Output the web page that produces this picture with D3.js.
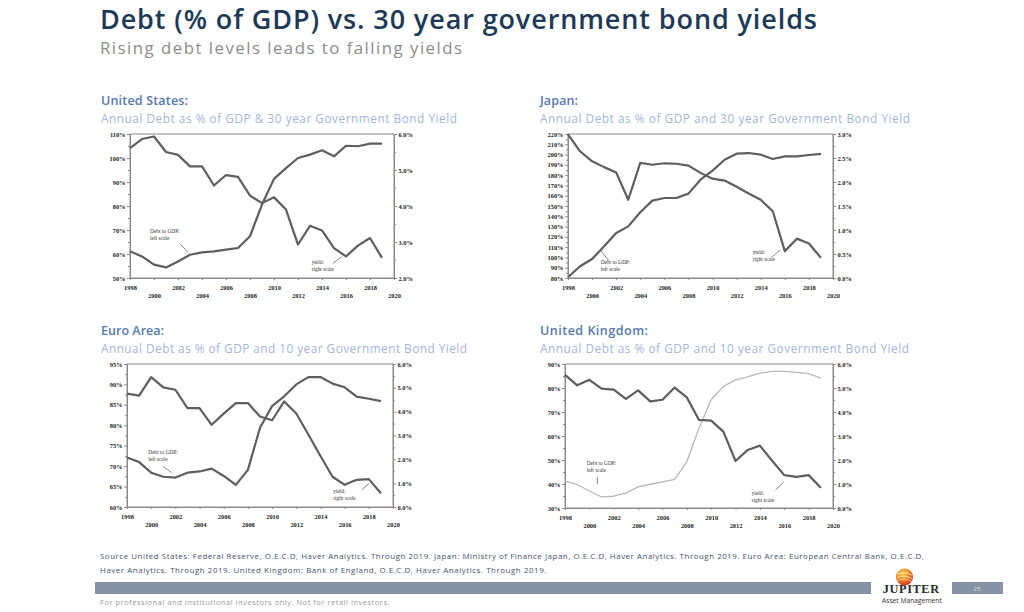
<!DOCTYPE html>
<html><head><meta charset="utf-8">
<script src="https://cdn.jsdelivr.net/npm/d3@7"></script>
<style>body{margin:0;background:#fff;} svg{display:block}</style>
</head><body>
<svg id="c" width="1024" height="612"></svg>
<script>
// ---------- DATA ----------
const years = [1998,1999,2000,2001,2002,2003,2004,2005,2006,2007,2008,2009,2010,2011,2012,2013,2014,2015,2016,2017,2018,2019];
const xTickYears = [1998,2000,2002,2004,2006,2008,2010,2012,2014,2016,2018,2020];

const usDebt  = [61.1,59.0,55.6,54.4,56.9,59.7,60.7,61.1,61.8,62.5,67.4,80.6,91.3,95.8,100.0,101.4,103.2,100.7,105.1,104.9,106.0,106.0];
const usYield = [5.61,5.86,5.93,5.50,5.42,5.10,5.10,4.57,4.86,4.81,4.29,4.08,4.24,3.90,2.93,3.45,3.32,2.83,2.60,2.90,3.11,2.56];
const usLeftTicks  = [50,60,70,80,90,100,110];
const usRightTicks = [2,3,4,5,6];

const jpDebt  = [80.7,91.4,98.5,110.8,123.8,130.2,143.9,155.2,157.8,157.8,162.0,175.6,184.4,195.0,200.9,201.5,199.9,195.7,198.3,198.3,199.6,200.6];
const jpYield = [2.99,2.64,2.43,2.31,2.20,1.63,2.40,2.36,2.39,2.38,2.34,2.19,2.07,2.03,1.90,1.76,1.63,1.39,0.56,0.82,0.72,0.42];
const jpLeftTicks  = [80,90,100,110,120,130,140,150,160,170,180,190,200,210,220];
const jpRightTicks = [0,0.5,1.0,1.5,2.0,2.5,3.0];

const euDebt  = [72.1,71.0,68.4,67.4,67.2,68.4,68.7,69.4,67.6,65.4,69.1,79.4,84.7,87.1,90.0,91.8,91.8,90.2,89.3,87.0,86.5,85.9];
const euYield = [4.76,4.67,5.45,5.02,4.92,4.15,4.15,3.45,3.92,4.36,4.36,3.80,3.64,4.43,3.92,3.04,2.14,1.27,0.93,1.14,1.17,0.58];
const euLeftTicks  = [60,65,70,75,80,85,90,95];
const euRightTicks = [0,1,2,3,4,5,6];

const ukDebt  = [41.2,39.8,37.1,34.6,34.9,36.3,38.8,39.9,40.9,41.9,49.3,63.2,75.1,80.7,83.4,84.6,86.2,86.9,86.9,86.5,86.0,84.1];
const ukYield = [5.55,5.11,5.34,4.97,4.93,4.55,4.90,4.44,4.51,5.02,4.61,3.67,3.64,3.18,1.96,2.42,2.60,1.97,1.37,1.30,1.37,0.84];
const ukLeftTicks  = [30,40,50,60,70,80,90];
const ukRightTicks = [0,1,2,3,4,5,6];

const mainTitle = "Debt (% of GDP) vs. 30 year government bond yields";
const mainSub = "Rising debt levels leads to falling yields";
const sourceLines = [
  "Source United States: Federal Reserve, O.E.C.D, Haver Analytics.  Through 2019. Japan: Ministry of Finance Japan, O.E.C.D, Haver Analytics.  Through 2019. Euro Area: European Central Bank, O.E.C.D,",
  "Haver Analytics.  Through 2019. United Kingdom: Bank of England,  O.E.C.D, Haver Analytics.  Through 2019."
];
const disclaimer = "For professional and institutional  investors only. Not for retail investors.";

// ---------- LAYOUT ----------
const panels = [
  {name:"United States:", sub:"Annual Debt as % of GDP & 30 year Government Bond Yield",
   debt:usDebt, yld:usYield, left:usLeftTicks, right:usRightTicks,
   box:[130,394,134,278], hx:101, hy:105, sy:123, nameW:87, subW:356, thinDebt:false,
   dLab:[1999.67,68.6], dPtr:[[2002.17,64.2],[2002.83,60.8]],
   yLab:[2013.14,55.8], yPtr:[[2014.9,56.1],[2015.64,58.9]]},
  {name:"Japan:", sub:"Annual Debt as % of GDP and 30 year Government Bond Yield",
   debt:jpDebt, yld:jpYield, left:jpLeftTicks, right:jpRightTicks,
   box:[568,833,134,278], hx:540, hy:105, sy:123, nameW:38, subW:370, thinDebt:false,
   dLab:[2000.71,93.3], dPtr:[[2000.74,106.3],[2001.40,96.8]],
   yLab:[2013.33,103.0], yPtr:[[2014.96,100.7],[2015.6,107.2]]},
  {name:"Euro Area:", sub:"Annual Debt as % of GDP and 10 year Government Bond Yield",
   debt:euDebt, yld:euYield, left:euLeftTicks, right:euRightTicks,
   box:[127,393,364,507], hx:101, hy:335, sy:353, nameW:63, subW:366, thinDebt:false,
   dLab:[1999.76,72.97], dPtr:[[2001.0,69.87],[2001.7,68.4]],
   yLab:[2015.06,63.5], yPtr:[[2017.41,64.16],[2018.02,65.8]]},
  {name:"United Kingdom:", sub:"Annual Debt as % of GDP and 10 year Government Bond Yield",
   debt:ukDebt, yld:ukYield, left:ukLeftTicks, right:ukRightTicks,
   box:[565,833,364,508], hx:540, hy:335, sy:353, nameW:108, subW:369, thinDebt:true,
   dLab:[1999.78,47.8], dPtr:[[2000.66,42.8],[2000.66,39.9]],
   yLab:[2013.33,35.4], yPtr:[[2015.27,37.5],[2015.95,40.7]]}
];

const svg = d3.select("#c");
const SANS = "'Open Sans', 'Noto Sans', sans-serif";
const SERIF = "'Liberation Serif', 'DejaVu Serif', serif";

function fit(t, w){
  const l = t.node().getComputedTextLength();
  const fs = parseFloat(t.attr("font-size"));
  if (l > 0) t.attr("font-size", fs * w / l);
}
function fitSpacing(t, w){
  const l = t.node().getComputedTextLength();
  const n = t.text().length;
  if (l > 0 && n > 1) t.attr("letter-spacing", (w - l) / (n - 1));
}

// main titles
fitSpacing(svg.append("text").attr("x",100).attr("y",29).attr("font-family",SANS)
  .attr("font-weight",600).attr("font-size",27).attr("fill","#1c3a56").text(mainTitle), 717);
fitSpacing(svg.append("text").attr("x",100).attr("y",53.5).attr("font-family",SANS)
  .attr("font-size",16.8).attr("fill","#8c8c8c").text(mainSub), 362);

const pctL = d => d3.format("d")(d) + "%";
const pctR = d => d3.format(".1f")(d) + "%";

panels.forEach(p => {
  const [x0,x1,y0,y1] = p.box;
  const x = d3.scaleLinear().domain([1998,2020]).range([x0,x1]);
  const yl = d3.scaleLinear().domain([p.left[0], p.left[p.left.length-1]]).range([y1,y0]);
  const yr = d3.scaleLinear().domain([p.right[0], p.right[p.right.length-1]]).range([y1,y0]);

  // headers
  fitSpacing(svg.append("text").attr("x",p.hx).attr("y",p.hy).attr("font-family",SANS)
    .attr("font-weight",600).attr("font-size",12.5).attr("fill","#5478b0").text(p.name), p.nameW);
  fitSpacing(svg.append("text").attr("x",p.hx).attr("y",p.sy).attr("font-family",SANS)
    .attr("font-size",11.8).attr("fill","#a3b6da").text(p.sub), p.subW);

  const g = svg.append("g");
  // frame
  g.append("rect").attr("x",x0).attr("y",y0).attr("width",x1-x0).attr("height",y1-y0)
    .attr("fill","none").attr("stroke","#8a8a8a").attr("stroke-width",1);

  // left axis
  const leftMinor = p.left.slice(0,-1).map((d,i)=> (d + p.left[i+1])/2);
  const axL = d3.axisLeft(yl).tickValues(p.left).tickFormat(pctL).tickSize(3).tickPadding(1.5);
  g.append("g").attr("transform",`translate(${x0},0)`).call(axL);
  g.append("g").attr("transform",`translate(${x0},0)`)
    .call(d3.axisLeft(yl).tickValues(leftMinor).tickFormat("").tickSize(2))
    .select(".domain").remove();
  // right axis
  const rightMinor = p.right.slice(0,-1).map((d,i)=> (d + p.right[i+1])/2);
  const axR = d3.axisRight(yr).tickValues(p.right).tickFormat(pctR).tickSize(3).tickPadding(1.5);
  g.append("g").attr("transform",`translate(${x1},0)`).call(axR);
  g.append("g").attr("transform",`translate(${x1},0)`)
    .call(d3.axisRight(yr).tickValues(rightMinor).tickFormat("").tickSize(2))
    .select(".domain").remove();
  // bottom axis
  const axB = d3.axisBottom(x).tickValues(xTickYears).tickFormat(d3.format("d")).tickSize(2).tickPadding(0);
  const gB = g.append("g").attr("transform",`translate(0,${y1})`).call(axB);
  gB.selectAll(".tick text").attr("dy", (d,i)=> i%2===0 ? "9.5px" : "17.5px");

  g.selectAll(".domain").attr("stroke","#8a8a8a");
  g.selectAll(".tick line").attr("stroke","#8a8a8a");
  g.selectAll(".tick text").attr("font-family",SERIF).attr("font-weight",700)
    .attr("font-size",6.4).attr("fill","#222");

  // lines
  const lineL = d3.line().x((d,i)=>x(years[i])).y(d=>yl(d));
  const lineR = d3.line().x((d,i)=>x(years[i])).y(d=>yr(d));
  g.append("path").datum(p.debt).attr("d",lineL).attr("fill","none")
    .attr("stroke", p.thinDebt ? "#b8b8b8" : "#5e5e5e")
    .attr("stroke-width", p.thinDebt ? 1.3 : 2.2)
    .attr("stroke-linejoin","round");
  g.append("path").datum(p.yld).attr("d",lineR).attr("fill","none")
    .attr("stroke","#5e5e5e").attr("stroke-width",2.2).attr("stroke-linejoin","round");

  // annotations (positions given in data units: year, left-scale value)
  const ann = (pos, l1, l2) => {
    const t = g.append("text").attr("font-family",SERIF).attr("font-size",5.4)
      .attr("fill","#333").attr("x",x(pos[0])).attr("y",yl(pos[1]));
    t.append("tspan").attr("x",x(pos[0])).text(l1);
    t.append("tspan").attr("x",x(pos[0])).attr("dy",7).text(l2);
  };
  ann(p.dLab, "Debt to GDP:", "left scale");
  ann(p.yLab, "yield:", "right scale");
  [p.dPtr, p.yPtr].forEach(ptr => {
    g.append("line").attr("x1",x(ptr[0][0])).attr("y1",yl(ptr[0][1]))
      .attr("x2",x(ptr[1][0])).attr("y2",yl(ptr[1][1]))
      .attr("stroke","#666").attr("stroke-width",0.8);
  });
});

// source lines
sourceLines.forEach((s,i) => {
  fitSpacing(svg.append("text").attr("x",100).attr("y",559 + i*14).attr("font-family",SANS)
    .attr("font-size",7.9).attr("fill","#44526e").text(s), i===0 ? 825 : 448);
});

// footer bar
svg.append("rect").attr("x",95).attr("y",582).attr("width",776).attr("height",12).attr("fill","#8792a6");
svg.append("rect").attr("x",952).attr("y",582).attr("width",51).attr("height",12).attr("fill","#8792a6");
svg.append("text").attr("x",977).attr("y",590.5).attr("text-anchor","middle").attr("font-family",SANS)
  .attr("font-size",6).attr("fill","#dfe3ea").text("25");

// Jupiter logo
const defs = svg.append("defs");
const rg = defs.append("radialGradient").attr("id","jg").attr("cx","40%").attr("cy","30%").attr("r","70%");
rg.append("stop").attr("offset","0%").attr("stop-color","#ffd04a");
rg.append("stop").attr("offset","55%").attr("stop-color","#f08a24");
rg.append("stop").attr("offset","100%").attr("stop-color","#d4321c");
svg.append("circle").attr("cx",904.5).attr("cy",577).attr("r",8.5).attr("fill","url(#jg)");
[[-3,0.9],[0.5,0.9],[3.5,0.7]].forEach(([dy,w]) => {
  svg.append("path").attr("d",`M${897} ${577+dy} Q ${904.5} ${577+dy-3} ${912} ${577+dy+1}`)
    .attr("fill","none").attr("stroke","#fff4d8").attr("stroke-width",w).attr("opacity",0.8);
});
const jt = svg.append("text").attr("x",882.5).attr("y",593).attr("font-family",SERIF).attr("font-weight",700)
  .attr("fill","#2a2a2a").attr("font-size",10.5).attr("letter-spacing",0.6);
jt.append("tspan").attr("font-size",13).text("J");
jt.append("tspan").text("UPITER");
fit(jt, 59);
fit(svg.append("text").attr("x",882).attr("y",602.5).attr("font-family",SANS)
  .attr("font-size",5.5).attr("fill","#333").text("Asset Management"), 60);

// disclaimer
fitSpacing(svg.append("text").attr("x",100).attr("y",605).attr("font-family",SANS)
  .attr("font-size",7.5).attr("fill","#9a9a9a").text(disclaimer), 290);
</script>
</body></html>
